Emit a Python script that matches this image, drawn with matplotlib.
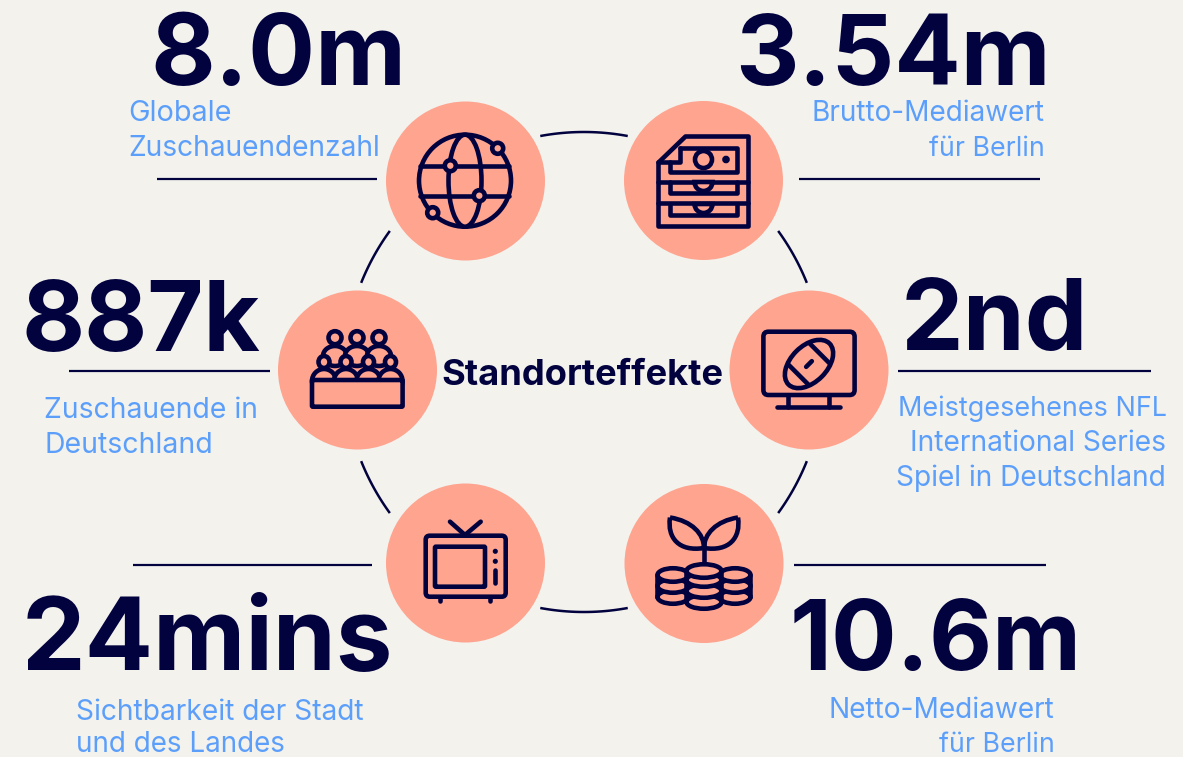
import matplotlib
matplotlib.use('Agg')
import matplotlib.pyplot as plt
import numpy as np
from matplotlib.patches import Circle, Ellipse, FancyBboxPatch, Polygon, PathPatch, Wedge
from matplotlib.path import Path

headlines = ['8.0m', '3.54m', '887k', '2nd', '24mins', '10.6m']
globe_label = ['Globale', 'Zuschauendenzahl']
money_label = ['Brutto-Mediawert', 'für Berlin']
crowd_label = ['Zuschauende in', 'Deutschland']
screen_label = ['Meistgesehenes NFL', 'International Series', 'Spiel in Deutschland']
tv_label = ['Sichtbarkeit der Stadt', 'und des Landes']
coins_label = ['Netto-Mediawert', 'für Berlin']
center_title = 'Standorteffekte'

NAVY = '#02023f'
BLUE = '#5c9ffb'
SALMON = '#ffa48f'
BG = '#f3f2ed'
LW = 3.3

fig = plt.figure(figsize=(11.83, 7.57), dpi=100, facecolor=BG)
ax = fig.add_axes([0, 0, 1, 1])
ax.set_xlim(0, 1183)
ax.set_ylim(757, 0)
ax.axis('off')
renderer = fig.canvas.get_renderer()


def put(s, x0, x1, base, color, weight, pad=0.7):
    # font size chosen so the text spans x0..x1 in pixels, pad covers side bearings
    t = ax.text(x0 - pad, base, s, color=color, family='Inter', fontweight=weight,
                fontsize=20, ha='left', va='baseline', zorder=6)
    w = t.get_window_extent(renderer).width
    t.set_fontsize(20 * (x1 - x0 + 2 * pad) / w)
    return t


def big(s, x0, x1, base, pad=2.5):
    return put(s, x0, x1, base, NAVY, 'bold', pad=pad)


def rule(x0, x1, y):
    ax.plot([x0, x1], [y, y], color=NAVY, lw=1.6, solid_capstyle='butt')


def ring_arc(a0, a1):
    th = np.radians(np.linspace(a0, a1, 40))
    ax.plot(584 + 240 * np.cos(th), 372 - 240 * np.sin(th), color=NAVY, lw=1.8,
            solid_capstyle='butt')


def line(xs, ys, lw=LW, z=5):
    ax.plot(xs, ys, color=NAVY, lw=lw, solid_capstyle='round',
            solid_joinstyle='round', zorder=z)


def ell(x, y, w, h, fill=SALMON, angle=0, lw=LW, z=4):
    ax.add_patch(Ellipse((x, y), w, h, angle=angle, fc=fill, ec=NAVY, lw=lw, zorder=z))


def rbox(x0, y0, x1, y1, r=3, fill=SALMON, z=4):
    ax.add_patch(FancyBboxPatch((x0, y0), x1 - x0, y1 - y0,
                                boxstyle='round,pad=0,rounding_size=%s' % r,
                                fc=fill, ec=NAVY, lw=LW, zorder=z))


# connecting ring
for a0, a1 in [(79.5, 100.5), (21.8, 36), (144, 158.2), (201.8, 216), (259.5, 280.5), (324, 338.2)]:
    ring_arc(a0, a1)

# salmon discs
for cx, cy in [(465.5, 181), (703.5, 180.5), (357.5, 370), (809, 370), (465.5, 563), (704, 563.5)]:
    ax.add_patch(Circle((cx, cy), 79.5, fc=SALMON, ec='none', zorder=2))

# globe icon
ell(465, 180.7, 92, 92)
ell(465, 180.7, 33, 92)
line([420.5, 509.5], [165.7, 165.7])
line([420.5, 509.5], [195.7, 195.7])
for nx, ny in [(450.3, 165.7), (479.3, 195.7), (497.7, 148.3), (432.7, 212.7)]:
    ell(nx, ny, 11, 11, z=5)

# banknote stack icon
ax.add_patch(Polygon([(685, 135.5), (748, 135.5), (748, 226), (658, 226), (658, 162)], closed=True,
                     fc=SALMON, ec=NAVY, lw=LW, joinstyle='round', zorder=4))
line([680, 737, 737, 670, 670], [148, 148, 171.5, 171.5, 162])
line([658, 680, 680], [162, 162, 148])
ell(703.5, 159.5, 17, 17, z=6)
ell(726, 159.5, 3, 3, fill=NAVY, z=6)
line([658, 748], [181.7, 181.7])
line([658, 748], [203.3, 203.3])
line([670, 670, 737, 737], [182, 193, 193, 182])
line([670, 670, 737, 737], [205, 215, 215, 205])
for wy in [182, 204]:
    ax.add_patch(Wedge((703.5, wy), 9, 0, 180, fc=SALMON, ec=NAVY, lw=LW, zorder=5))

# crowd icon
for hx in [335, 357, 379]:
    ell(hx, 356, 24, 20)
    ell(hx, 337.7, 13, 13)
for hx in [324, 346, 368.5, 390.5]:
    ell(hx, 381, 24, 24)
    ell(hx, 362, 11, 12)
rbox(312, 380, 402.6, 406.7, r=1, z=5)

# monitor with football icon
rbox(763.4, 331.7, 854.6, 395, r=5)
line([788, 788], [396, 407])
line([829, 829], [396, 407])
line([777, 840.5], [407, 407])
ell(809, 364, 58, 36, angle=-45)
ux, uy = np.sqrt(0.5), -np.sqrt(0.5)
vx, vy = np.sqrt(0.5), np.sqrt(0.5)
for d, half in [(-15, 14), (15, 14)]:
    px, py = 809 + d * ux, 364 + d * uy
    line([px - half * vx, px + half * vx], [py - half * vy, py + half * vy])
line([809 - 4 * ux, 809 + 4 * ux], [364 - 4 * uy, 364 + 4 * uy])

# tv icon
line([450, 465, 480.7], [521.7, 535, 521.7])
rbox(425.7, 535.7, 505.7, 596.7, r=4)
rbox(435, 546.7, 485, 586.7, r=1)
ell(495.3, 551.3, 3, 3, fill=NAVY, lw=1.5, z=5)
ell(495.3, 561.3, 3, 3, fill=NAVY, lw=1.5, z=5)
line([495.3, 495.3], [570, 583.3])
line([440, 440], [598, 601])
line([490, 490], [598, 601])

# seedling on coins icon
line([704, 704], [540, 565])
for sgn in [-1, 1]:
    verts = [(704 + sgn * 34, 517.5), (704 + sgn * 12, 521), (704, 534), (704, 548),
             (704 + sgn * 25, 552), (704 + sgn * 37, 538), (704 + sgn * 34, 517.5)]
    codes = [Path.MOVETO] + [Path.CURVE4] * 6
    ax.add_patch(PathPatch(Path(verts, codes), fc='none', ec=NAVY, lw=LW, zorder=5,
                           joinstyle='round'))
for sx, ys in [(673, [597, 586, 575]), (735, [597, 586, 575]), (704, [602, 591, 580, 571])]:
    z = 5 if sx == 704 else 4
    hw = 17.5 if sx == 704 else 15.5
    for sy in ys:
        ell(sx, sy, 2 * hw, 13.5, z=z)
    line([sx - hw, sx - hw], [ys[0], ys[-1]], z=z)
    line([sx + hw, sx + hw], [ys[0], ys[-1]], z=z)

# horizontal rules
rule(157, 377, 179)
rule(799, 1040, 179)
rule(69, 270, 371)
rule(898, 1151, 371)
rule(133, 372, 565)
rule(794, 1046, 565)

# big numbers
big(headlines[0], 153, 404, 85)
big(headlines[1], 738, 1048, 85)
big(headlines[2], 24, 258, 351)
big(headlines[3], 903, 1086, 350)
big(headlines[4], 24, 391, 670)
big(headlines[5], 792, 1079, 670)
big(center_title, 442, 722, 385, pad=1)

# small captions
put(globe_label[0], 129, 231, 121, BLUE, 'normal')
put(globe_label[1], 129, 380, 156, BLUE, 'normal')
put(money_label[0], 812, 1044, 121, BLUE, 'normal')
put(money_label[1], 930, 1044, 156, BLUE, 'normal')
put(crowd_label[0], 45, 257, 418, BLUE, 'normal')
put(crowd_label[1], 45, 212, 453, BLUE, 'normal')
put(screen_label[0], 899, 1166, 416, BLUE, 'normal')
put(screen_label[1], 911, 1166, 451, BLUE, 'normal')
put(screen_label[2], 897, 1166, 486, BLUE, 'normal')
put(tv_label[0], 77, 364, 720, BLUE, 'normal')
put(tv_label[1], 77, 285, 752.5, BLUE, 'normal')
put(coins_label[0], 829, 1054, 718, BLUE, 'normal')
put(coins_label[1], 940, 1054, 752, BLUE, 'normal')

fig.savefig('out.png', dpi=100, facecolor=BG)
